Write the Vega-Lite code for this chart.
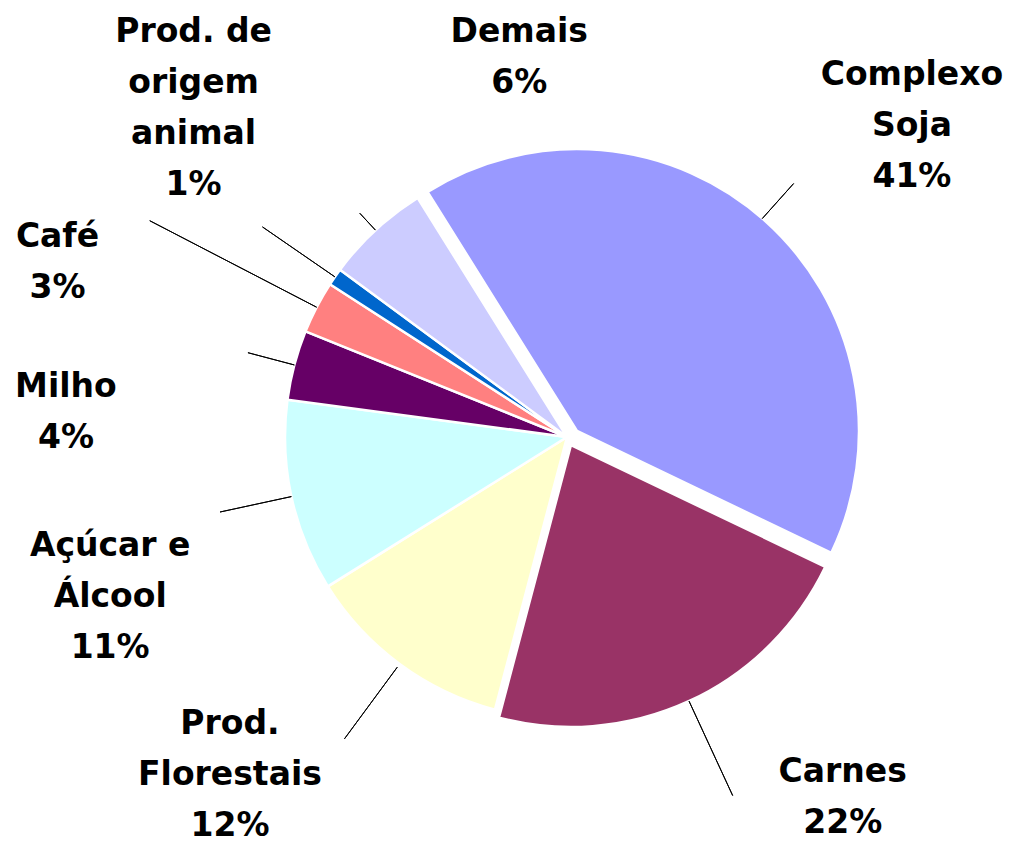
{
  "$schema": "https://vega.github.io/schema/vega-lite/v6.json",
  "width": 886,
  "height": 822,
  "autosize": {"type": "none"},
  "padding": {"left": 124, "top": 26, "right": 0, "bottom": 0},
  "background": "white",
  "config": {"view": {"stroke": null}},
  "data": {
    "values": [
      {"cat": "Complexo Soja", "value": 41, "ord": 1, "label": "Complexo\nSoja\n41%"},
      {"cat": "Carnes", "value": 22, "ord": 2, "label": "Carnes\n22%"},
      {"cat": "Prod. Florestais", "value": 12, "ord": 3, "label": "Prod.\nFlorestais\n12%"},
      {"cat": "Açúcar e Álcool", "value": 11, "ord": 4, "label": "Açúcar e\nÁlcool\n11%"},
      {"cat": "Milho", "value": 4, "ord": 5, "label": "Milho\n4%"},
      {"cat": "Café", "value": 3, "ord": 6, "label": "Café\n3%"},
      {"cat": "Prod. de origem animal", "value": 1, "ord": 7, "label": "Prod. de\norigem\nanimal\n1%"},
      {"cat": "Demais", "value": 6, "ord": 8, "label": "Demais\n6%"}
    ]
  },
  "encoding": {
    "theta": {"field": "value", "type": "quantitative", "stack": true, "scale": {"range": [-0.5585, 5.7247]}},
    "order": {"field": "ord", "type": "quantitative"}
  },
  "layer": [
    {
      "mark": {"type": "arc", "outerRadius": 282, "stroke": "white", "strokeWidth": 2.5},
      "encoding": {
        "color": {"field": "cat", "type": "nominal", "legend": null,
          "scale": {"domain": ["Complexo Soja", "Carnes", "Prod. Florestais", "Açúcar e Álcool", "Milho", "Café", "Prod. de origem animal", "Demais"],
                    "range": ["#9999FF", "#993366", "#FFFFCC", "#CCFFFF", "#660066", "#FF8080", "#0066CC", "#CCCCFF"]}},
        "opacity": {"condition": {"test": "datum.ord === 1 || datum.ord === 2", "value": 0}, "value": 1}
      }
    },
    {
      "mark": {"type": "arc", "outerRadius": 282, "stroke": "white", "strokeWidth": 2.5, "xOffset": 10, "yOffset": -6},
      "encoding": {
        "color": {"field": "cat", "type": "nominal", "legend": null},
        "opacity": {"condition": {"test": "datum.ord === 1", "value": 1}, "value": 0}
      }
    },
    {
      "mark": {"type": "arc", "outerRadius": 282, "stroke": "white", "strokeWidth": 2.5, "xOffset": 4, "yOffset": 8},
      "encoding": {
        "color": {"field": "cat", "type": "nominal", "legend": null},
        "opacity": {"condition": {"test": "datum.ord === 2", "value": 1}, "value": 0}
      }
    },
    {
      "mark": {"type": "arc", "filled": false, "stroke": "black", "strokeWidth": 1, "padAngle": 3.1416,
        "innerRadius": {"expr": "[293,291,286,282,282,282,282,282][datum.ord-1]"},
        "outerRadius": {"expr": "[340,395,375,355,330,470,370,305][datum.ord-1]"}},
      "encoding": {}
    },
    {
      "mark": {"type": "text", "radius": 450, "font": "DejaVu Sans", "fontWeight": "bold", "fontSize": 33,
        "lineHeight": 51, "lineBreak": "\n", "align": "center", "baseline": "middle", "color": "black",
        "dx": {"expr": "[45,87,-70,-17,-66,-110,-3,258][datum.ord-1]"},
        "dy": {"expr": "[-26.5,-74,-75,14,64.5,7.5,-149,-74.5][datum.ord-1]"}},
      "encoding": {
        "text": {"field": "label", "type": "nominal"}
      }
    }
  ]
}
